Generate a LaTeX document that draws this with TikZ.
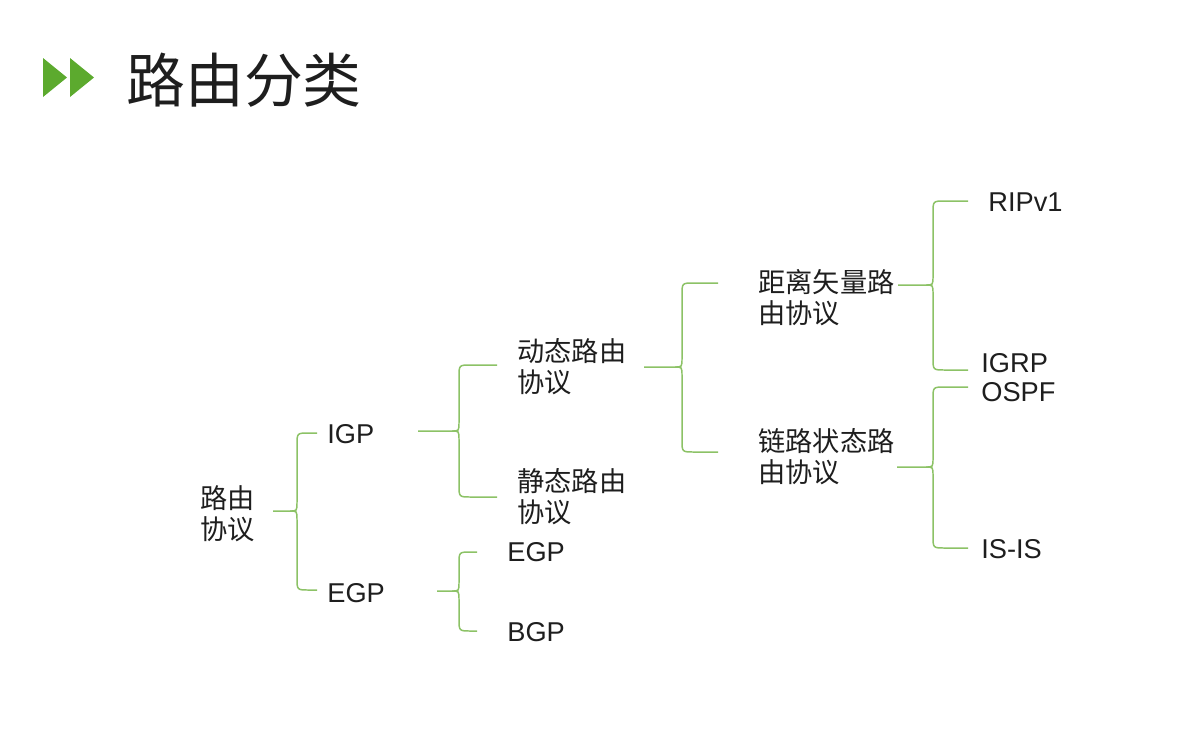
\documentclass[tikz,border=0pt]{standalone}
\usepackage{fontspec}
\setmainfont{Liberation Sans}
\newfontfamily\cjk{Noto Sans CJK SC}
\usetikzlibrary{calc}
\definecolor{brgreen}{RGB}{140,194,102}
\definecolor{ttgreen}{RGB}{92,170,46}
\definecolor{txt}{RGB}{30,30,30}
\tikzset{
  item/.style={anchor=west,inner sep=0pt,align=left,text=txt,font=\fontsize{15.5}{17.6}\selectfont},
  hz/.style={item,font=\fontsize{15.5}{17.6}\selectfont\cjk},
  brace/.style={draw=brgreen,line width=0.85pt}
}
% #1 out, #2 top in, #3 bottom in, #4 x of the bar
\newcommand\tbrace[4]{%
  \coordinate (bar) at (#4,0);
  \draw[brace] (#2) -- ($(bar |- #2)+(12,0)$) .. controls (bar |- #2) .. ($(bar |- #2)+(0,12)$)
    -- ($(bar |- #1)-(0,9)$) .. controls (bar |- #1) .. ($(bar |- #1)-(7,0)$) -- (#1);
  \draw[brace] (#3) -- ($(bar |- #3)+(12,0)$) .. controls (bar |- #3) .. ($(bar |- #3)-(0,12)$)
    -- ($(bar |- #1)+(0,9)$) .. controls (bar |- #1) .. ($(bar |- #1)-(7,0)$);
}
\begin{document}
\begin{tikzpicture}[x=0.02cm,y=-0.02cm]
\useasboundingbox (0,0) rectangle (1193,741);
% title
\fill[ttgreen] (43,58) -- (67,77.5) -- (43,97) -- cycle;
\fill[ttgreen] (70,58) -- (94,77.5) -- (70,97) -- cycle;
\node[anchor=west,inner sep=0pt,text=txt,font=\fontsize{33.5}{40}\selectfont\cjk] (title) at (126,80) {路由分类};
% nodes
\node[hz] (root) at (200,514) {路由\\协议};
\node[item] (igp) at (327,434) {IGP};
\node[item] (egp) at (327,593) {EGP};
\node[hz] (dyn) at (517,367) {动态路由\\协议};
\node[hz] (sta) at (517,497) {静态路由\\协议};
\node[item] (egpb) at (507,552) {EGP};
\node[item] (bgp) at (507,632) {BGP};
\node[hz] (dv) at (758,298) {距离矢量路\\由协议};
\node[hz] (ls) at (758,457) {链路状态路\\由协议};
\node[item] (rip) at (988,202) {RIPv1};
\node[item] (igrp) at (981,363) {IGRP};
\node[item] (ospf) at (981,392) {OSPF};
\node[item] (isis) at (981,549) {IS-IS};
% brace ends
\coordinate (root-out) at (273,511);
\coordinate (igp-in) at (317,433);
\coordinate (egp-in) at (317,590);
\coordinate (igp-out) at (418,431);
\coordinate (dyn-in) at (497,365);
\coordinate (sta-in) at (497,497);
\coordinate (egp-out) at (437,591);
\coordinate (egpb-in) at (477,552);
\coordinate (bgp-in) at (477,631);
\coordinate (dyn-out) at (644,367);
\coordinate (dv-in) at (718,283);
\coordinate (ls-in) at (718,452);
\coordinate (dv-out) at (898,285);
\coordinate (rip-in) at (968,201);
\coordinate (igrp-in) at (968,370);
\coordinate (ls-out) at (897,467);
\coordinate (ospf-in) at (968,387);
\coordinate (isis-in) at (968,548);
% braces
\tbrace{root-out}{igp-in}{egp-in}{297}
\tbrace{igp-out}{dyn-in}{sta-in}{459}
\tbrace{egp-out}{egpb-in}{bgp-in}{459}
\tbrace{dyn-out}{dv-in}{ls-in}{682}
\tbrace{dv-out}{rip-in}{igrp-in}{933}
\tbrace{ls-out}{ospf-in}{isis-in}{933}
\end{tikzpicture}
\end{document}
